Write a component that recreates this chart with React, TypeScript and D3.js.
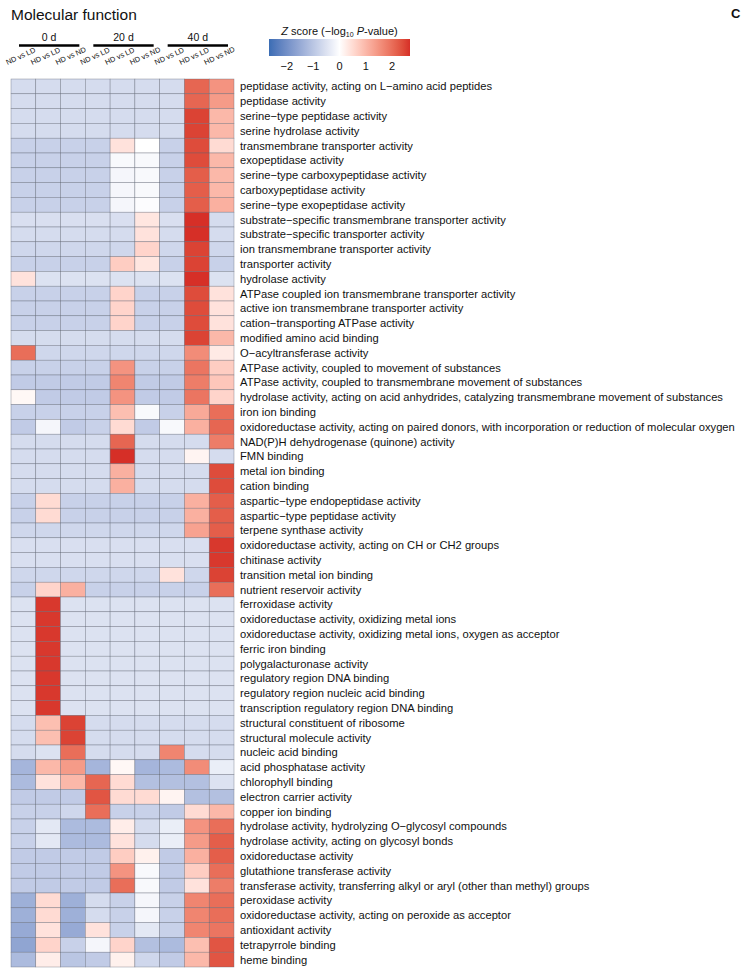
import * as d3 from 'd3';

// row labels (GO molecular function terms)
const terms = [
  'peptidase activity, acting on L−amino acid peptides',
  'peptidase activity',
  'serine−type peptidase activity',
  'serine hydrolase activity',
  'transmembrane transporter activity',
  'exopeptidase activity',
  'serine−type carboxypeptidase activity',
  'carboxypeptidase activity',
  'serine−type exopeptidase activity',
  'substrate−specific transmembrane transporter activity',
  'substrate−specific transporter activity',
  'ion transmembrane transporter activity',
  'transporter activity',
  'hydrolase activity',
  'ATPase coupled ion transmembrane transporter activity',
  'active ion transmembrane transporter activity',
  'cation−transporting ATPase activity',
  'modified amino acid binding',
  'O−acyltransferase activity',
  'ATPase activity, coupled to movement of substances',
  'ATPase activity, coupled to transmembrane movement of substances',
  'hydrolase activity, acting on acid anhydrides, catalyzing transmembrane movement of substances',
  'iron ion binding',
  'oxidoreductase activity, acting on paired donors, with incorporation or reduction of molecular oxygen',
  'NAD(P)H dehydrogenase (quinone) activity',
  'FMN binding',
  'metal ion binding',
  'cation binding',
  'aspartic−type endopeptidase activity',
  'aspartic−type peptidase activity',
  'terpene synthase activity',
  'oxidoreductase activity, acting on CH or CH2 groups',
  'chitinase activity',
  'transition metal ion binding',
  'nutrient reservoir activity',
  'ferroxidase activity',
  'oxidoreductase activity, oxidizing metal ions',
  'oxidoreductase activity, oxidizing metal ions, oxygen as acceptor',
  'ferric iron binding',
  'polygalacturonase activity',
  'regulatory region DNA binding',
  'regulatory region nucleic acid binding',
  'transcription regulatory region DNA binding',
  'structural constituent of ribosome',
  'structural molecule activity',
  'nucleic acid binding',
  'acid phosphatase activity',
  'chlorophyll binding',
  'electron carrier activity',
  'copper ion binding',
  'hydrolase activity, hydrolyzing O−glycosyl compounds',
  'hydrolase activity, acting on glycosyl bonds',
  'oxidoreductase activity',
  'glutathione transferase activity',
  'transferase activity, transferring alkyl or aryl (other than methyl) groups',
  'peroxidase activity',
  'oxidoreductase activity, acting on peroxide as acceptor',
  'antioxidant activity',
  'tetrapyrrole binding',
  'heme binding',
];

const comparisons = ['ND vs LD', 'HD vs LD', 'HD vs ND'];
const stages = ['0 d', '20 d', '40 d'];

// z scores, one array per column, same order as terms
const nd_ld_0d = [
  -0.6, -0.6, -0.6, -0.6, -0.8, -0.8, -0.8, -0.8, -0.8, -0.55,
  -0.6, -0.7, -0.8, 0.4, -0.8, -0.8, -0.8, -0.6, 2.0, -0.8,
  -0.9, 0.1, -0.8, -0.9, -0.6, -0.6, -0.6, -0.6, -0.8, -0.8,
  -0.7, -0.55, -0.55, -0.7, -0.8, -0.5, -0.5, -0.5, -0.5, -0.5,
  -0.5, -0.5, -0.5, -0.6, -0.6, -0.6, -1.3, -1.2, -0.9, -0.8,
  -0.8, -0.8, -0.9, -0.9, -0.9, -1.4, -1.4, -1.5, -1.6, -1.2,
];
const hd_ld_0d = [
  -0.6, -0.6, -0.6, -0.6, -0.8, -0.8, -0.8, -0.8, -0.8, -0.55,
  -0.6, -0.7, -0.8, -0.5, -0.8, -0.8, -0.8, -0.6, -0.7, -0.8,
  -0.9, -0.9, -0.8, -0.15, -0.6, -0.6, -0.6, -0.6, 0.5, 0.5,
  -0.7, -0.55, -0.55, -0.7, 0.6, 2.6, 2.6, 2.6, 2.6, 2.6,
  2.6, 2.6, 2.6, 0.9, 0.9, -0.5, 1.0, 0.4, -0.9, -0.8,
  -0.4, -0.4, -0.9, -0.9, -0.9, 0.5, 0.5, 0.4, 0.6, 0.25,
];
const hd_nd_0d = [
  -0.6, -0.6, -0.6, -0.6, -0.8, -0.8, -0.8, -0.8, -0.8, -0.55,
  -0.6, -0.7, -0.8, -0.5, -0.8, -0.8, -0.8, -0.6, -0.7, -0.8,
  -0.9, -0.9, -0.8, -0.9, -0.6, -0.6, -0.6, -0.6, -0.8, -0.8,
  -0.7, -0.55, -0.55, -0.7, 1.1, -0.5, -0.5, -0.5, -0.5, -0.5,
  -0.5, -0.5, -0.5, 2.5, 2.5, 2.0, 1.4, 1.0, -0.9, -0.7,
  -1.2, -1.2, -0.9, -0.9, -0.9, -1.4, -1.4, -1.5, -0.8, -1.0,
];
const nd_ld_20d = [
  -0.6, -0.6, -0.6, -0.6, -0.8, -0.8, -0.8, -0.8, -0.8, -0.55,
  -0.6, -0.7, -0.8, -0.5, -0.8, -0.8, -0.8, -0.6, -0.7, -0.8,
  -0.9, -0.9, -0.8, -0.8, -0.6, -0.6, -0.6, -0.6, -0.8, -0.8,
  -0.7, -0.55, -0.55, -0.7, -0.8, -0.5, -0.5, -0.5, -0.5, -0.5,
  -0.5, -0.5, -0.5, -0.6, -0.6, -0.6, -1.3, 2.1, 2.3, 2.0,
  -1.2, -1.2, -0.9, -0.9, -0.9, -0.6, -0.6, 0.4, -0.15, -0.9,
];
const hd_ld_20d = [
  -0.6, -0.6, -0.6, -0.6, 0.4, -0.1, -0.15, -0.15, -0.15, -0.55,
  -0.6, -0.7, 0.7, -0.5, 0.6, 0.6, 0.6, -0.6, -0.7, 1.5,
  1.7, 1.5, 0.9, 0.5, 2.1, 2.7, 1.1, 1.1, -0.8, -0.8,
  -0.7, -0.55, -0.55, -0.7, -0.8, -0.5, -0.5, -0.5, -0.5, -0.5,
  -0.5, -0.5, -0.5, -0.6, -0.6, -0.6, 0.1, 0.5, 0.5, -0.8,
  0.25, 0.4, 0.7, 1.5, 2.0, -0.8, -0.8, -0.8, 0.6, 0.2,
];
const hd_nd_20d = [
  -0.6, -0.6, -0.6, -0.6, 0.0, -0.1, -0.1, -0.1, -0.05, 0.35,
  0.4, 0.6, 0.35, -0.5, -0.8, -0.8, -0.8, -0.6, -0.7, -0.8,
  -0.9, -0.9, -0.1, -0.9, -0.6, -0.6, -0.6, -0.6, -0.8, -0.8,
  -0.7, -0.55, -0.55, -0.7, -0.8, -0.5, -0.5, -0.5, -0.5, -0.5,
  -0.5, -0.5, -0.5, -0.6, -0.6, -0.6, -1.3, -1.1, 0.5, -0.8,
  -0.6, -0.6, 0.2, -0.1, -0.1, -0.15, -0.15, -0.4, -1.1, -0.7,
];
const nd_ld_40d = [
  -0.6, -0.6, -0.6, -0.6, -0.8, -0.8, -0.8, -0.8, -0.8, -0.55,
  -0.6, -0.7, -0.8, -0.5, -0.8, -0.8, -0.8, -0.6, -0.7, -0.8,
  -0.9, -0.9, -0.8, -0.1, -0.6, -0.6, -0.6, -0.6, -0.8, -0.8,
  -0.7, -0.55, -0.55, 0.4, -0.8, -0.5, -0.5, -0.5, -0.5, -0.5,
  -0.5, -0.5, -0.5, -0.6, -0.6, 1.7, -1.2, -1.1, 0.15, -0.9,
  -0.3, -0.3, -0.9, -0.9, -0.9, -0.8, -0.8, -0.8, -1.2, -0.9,
];
const hd_ld_40d = [
  2.1, 2.1, 2.5, 2.5, 2.4, 2.4, 2.2, 2.2, 2.2, 2.7,
  2.7, 2.5, 2.5, 2.7, 2.4, 2.4, 2.4, 2.5, 1.6, 1.9,
  1.8, 1.9, 1.2, 1.1, -0.6, 0.15, -0.6, -0.6, 1.1, 1.1,
  1.3, -0.55, -0.55, -0.7, -0.8, -0.5, -0.5, -0.5, -0.5, -0.5,
  -0.5, -0.5, -0.5, -0.6, -0.6, -0.6, 1.6, -1.1, -1.1, 0.5,
  1.5, 1.4, 1.1, 0.7, 0.4, 1.7, 1.7, 1.7, 0.9, 1.0,
];
const hd_nd_40d = [
  1.5, 1.4, 1.0, 1.0, 0.5, 1.0, 1.0, 1.0, 1.1, -0.6,
  -0.6, -0.7, -0.8, -0.5, 0.4, 0.4, 0.4, 1.0, 0.3, 0.7,
  0.8, 0.6, 2.0, 2.1, 1.8, -0.6, 2.4, 2.4, 2.2, 2.2,
  2.2, 2.6, 2.6, 2.5, 2.0, -0.5, -0.5, -0.5, -0.5, -0.5,
  -0.5, -0.5, -0.5, -0.6, -0.6, -0.6, -0.3, -0.5, -1.1, 1.0,
  2.0, 2.2, 2.2, 2.0, 1.8, 2.0, 2.0, 1.9, 2.3, 2.3,
];

const columnsData = [
  nd_ld_0d, hd_ld_0d, hd_nd_0d,
  nd_ld_20d, hd_ld_20d, hd_nd_20d,
  nd_ld_40d, hd_ld_40d, hd_nd_40d,
];

const legendTicks = [-2, -1, 0, 1, 2];

const FONT = "'Liberation Sans', Arial, Helvetica, sans-serif";

const App = () => {
  const width = 746;
  const height = 975;

  // heatmap area
  const left = 11;
  const right = 234;
  const top = 79;
  const bottom = 967;

  const colIds = d3.range(columnsData.length);
  const x = d3.scaleBand<number>().domain(colIds).range([left, right]);
  const y = d3.scaleBand<string>().domain(terms).range([top, bottom]);

  const zMax = 2.68;
  const color = d3
    .scaleLinear<string>()
    .domain([-zMax, 0, zMax])
    .range(['#3b6db4', '#ffffff', '#d62f27'])
    .interpolate(d3.interpolateLab)
    .clamp(true);

  // legend
  const legX0 = 269;
  const legX1 = 410;
  const legScale = d3.scaleLinear().domain([-zMax, zMax]).range([legX0, legX1]);
  const gradStops = d3.range(0, 1.0001, 0.05);

  const cells = [];
  columnsData.forEach((col, ci) => {
    col.forEach((v, ri) => {
      cells.push({ ci, term: terms[ri], v });
    });
  });

  return (
    <svg
      width={width}
      height={height}
      style={{ position: 'absolute', left: 0, top: 0, background: '#fff' }}
      fontFamily={FONT}
    >
      <defs>
        <linearGradient id="zgrad" x1="0" x2="1" y1="0" y2="0">
          {gradStops.map(t => (
            <stop key={t} offset={t} stopColor={color(-zMax + 2 * zMax * t)} />
          ))}
        </linearGradient>
      </defs>

      <text x={11} y={20} fontSize={15.5} fill="#111">Molecular function</text>
      <text x={731} y={18} fontSize={13} fontWeight="bold" fill="#111">C</text>

      {/* stage groups */}
      {stages.map((s, gi) => {
        const x0 = x(gi * 3)!;
        const x1 = x(gi * 3 + 2)! + x.bandwidth();
        const cx = (x0 + x1) / 2;
        return (
          <g key={s}>
            <text x={cx + 1} y={41} fontSize={10.5} textAnchor="middle" fill="#111">{s}</text>
            <line x1={x0 + 8} x2={x1 - 6} y1={45.5} y2={45.5} stroke="#000" strokeWidth={2.6} />
          </g>
        );
      })}

      {/* column labels */}
      {colIds.map(ci => {
        const cx = x(ci)! + x.bandwidth() / 2;
        const tx = cx - 16;
        const ty = 65;
        return (
          <text
            key={ci}
            x={tx}
            y={ty}
            fontSize={7.4}
            fill="#111"
            transform={`rotate(-25, ${tx}, ${ty})`}
          >
            {comparisons[ci % 3]}
          </text>
        );
      })}

      {/* heatmap cells */}
      <g>
        {cells.map(d => (
          <rect
            key={`${d.ci}-${d.term}`}
            x={x(d.ci)}
            y={y(d.term)}
            width={x.bandwidth()}
            height={y.bandwidth()}
            fill={color(d.v)}
            stroke="#5b6270"
            strokeOpacity={0.7}
            strokeWidth={0.5}
          />
        ))}
      </g>

      {/* row labels */}
      {terms.map(t => (
        <text
          key={t}
          x={240}
          y={y(t)! + y.bandwidth() / 2}
          dy="0.35em"
          fontSize={11.2}
          fill="#111"
        >
          {t}
        </text>
      ))}

      {/* legend */}
      <text x={(legX0 + legX1) / 2} y={35} fontSize={11} textAnchor="middle" fill="#111">
        <tspan fontStyle="italic">Z</tspan>
        <tspan> score (−log</tspan>
        <tspan fontSize={7} dy={1.5}>10</tspan>
        <tspan dy={-1.5}> </tspan>
        <tspan fontStyle="italic">P</tspan>
        <tspan>-value)</tspan>
      </text>
      <rect x={legX0} y={39} width={legX1 - legX0} height={17} fill="url(#zgrad)" />
      {legendTicks.map(t => (
        <text key={t} x={legScale(t)} y={70} fontSize={11} textAnchor="middle" fill="#111">
          {t < 0 ? `−${Math.abs(t)}` : t}
        </text>
      ))}
    </svg>
  );
};

export default App;
